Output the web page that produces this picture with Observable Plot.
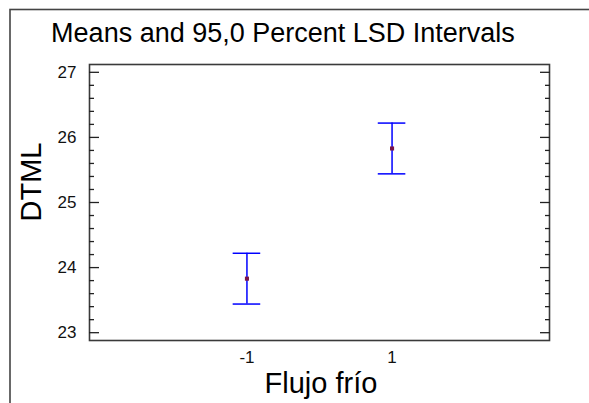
<!DOCTYPE html>
<html>
<head>
<meta charset="utf-8">
<script src="https://cdn.jsdelivr.net/npm/d3@7"></script>
<script src="https://cdn.jsdelivr.net/npm/@observablehq/plot@0.6"></script>
<style>
  html, body { margin: 0; padding: 0; background: #fff; }
  svg { display: block; }
</style>
</head>
<body>
<div id="chart"></div>
<script>
// ---- data ----
const levels = [-1, 1];
const means = [23.83, 25.83];
const lower = [23.44, 25.44];
const upper = [24.22, 26.22];
const yMajorTicks = [23, 24, 25, 26, 27];
const xTickLabels = ["-1", "1"];
const titleText = "Means and 95,0 Percent LSD Intervals";
const xLabel = "Flujo frío";
const yLabel = "DTML";

const rows = levels.map((x, i) => ({x, mean: means[i], lo: lower[i], hi: upper[i]}));
const yMinor = d3.range(23, 27.0001, 0.2).map(v => +v.toFixed(1)).filter(v => !yMajorTicks.includes(v));
const capHalf = 0.19;
const W = 589, H = 403;

const plot = Plot.plot({
  width: W,
  height: H,
  marginLeft: 89,
  marginRight: 40,
  marginTop: 64,
  marginBottom: 63,
  style: {fontFamily: "Liberation Sans, Arial, sans-serif", background: "#fff", overflow: "visible"},
  x: {domain: [-3.17, 3.17]},
  y: {domain: [22.88, 27.12]},
  marks: [
    Plot.frame({stroke: "#3a3a3a", strokeWidth: 1.6}),
    // y major ticks inward (left and right)
    Plot.axisY(yMajorTicks, {anchor: "left", tickSize: -10, text: null, stroke: "#222", strokeWidth: 1.3}),
    Plot.axisY(yMajorTicks, {anchor: "right", tickSize: -10, text: null, stroke: "#222", strokeWidth: 1.3}),
    Plot.axisY(yMinor, {anchor: "left", tickSize: -5, text: null, stroke: "#222", strokeWidth: 1.3}),
    Plot.axisY(yMinor, {anchor: "right", tickSize: -5, text: null, stroke: "#222", strokeWidth: 1.3}),
    // y tick labels
    Plot.axisY(yMajorTicks, {anchor: "left", tickSize: 0, tickPadding: 13, label: null, fill: "#111", tickFormat: d => String(d)}),
    // x tick labels
    Plot.axisX(levels, {anchor: "bottom", tickSize: 0, tickPadding: 10, label: null, fill: "#111", tickFormat: (d, i) => xTickLabels[i]}),
    // intervals
    Plot.ruleX(rows, {x: "x", y1: "lo", y2: "hi", stroke: "#0000ff", strokeWidth: 1.5}),
    Plot.ruleY(rows, {y: "hi", x1: d => d.x - capHalf, x2: d => d.x + capHalf, stroke: "#0000ff", strokeWidth: 1.5}),
    Plot.ruleY(rows, {y: "lo", x1: d => d.x - capHalf, x2: d => d.x + capHalf, stroke: "#0000ff", strokeWidth: 1.5}),
    Plot.dot(rows, {x: "x", y: "mean", symbol: "square", r: 2.3, fill: "#7a1448", stroke: null})
  ]
});

const svg = d3.select(plot);
// enlarge tick label text
svg.selectAll("g[aria-label='y-axis tick label'], g[aria-label='x-axis tick label']")
  .attr("font-size", 17).style("font-size", "17px");

// outer panel border
svg.insert("rect", ":first-child")
  .attr("x", 10).attr("y", 9.5).attr("width", W + 20).attr("height", H + 20)
  .attr("fill", "none").attr("stroke", "#444").attr("stroke-width", 1.6);

svg.append("text")
  .attr("x", 283).attr("y", 42)
  .attr("text-anchor", "middle")
  .attr("font-family", "Liberation Sans, Arial, sans-serif")
  .attr("font-size", 27).attr("fill", "#000")
  .text(titleText);

svg.append("text")
  .attr("x", 321).attr("y", 393)
  .attr("text-anchor", "middle")
  .attr("font-family", "Liberation Sans, Arial, sans-serif")
  .attr("font-size", 29).attr("fill", "#000")
  .text(xLabel);

svg.append("text")
  .attr("transform", "translate(41,182) rotate(-90)")
  .attr("text-anchor", "middle")
  .attr("font-family", "Liberation Sans, Arial, sans-serif")
  .attr("font-size", 29).attr("fill", "#000")
  .text(yLabel);

document.getElementById("chart").appendChild(plot);
</script>
</body>
</html>
